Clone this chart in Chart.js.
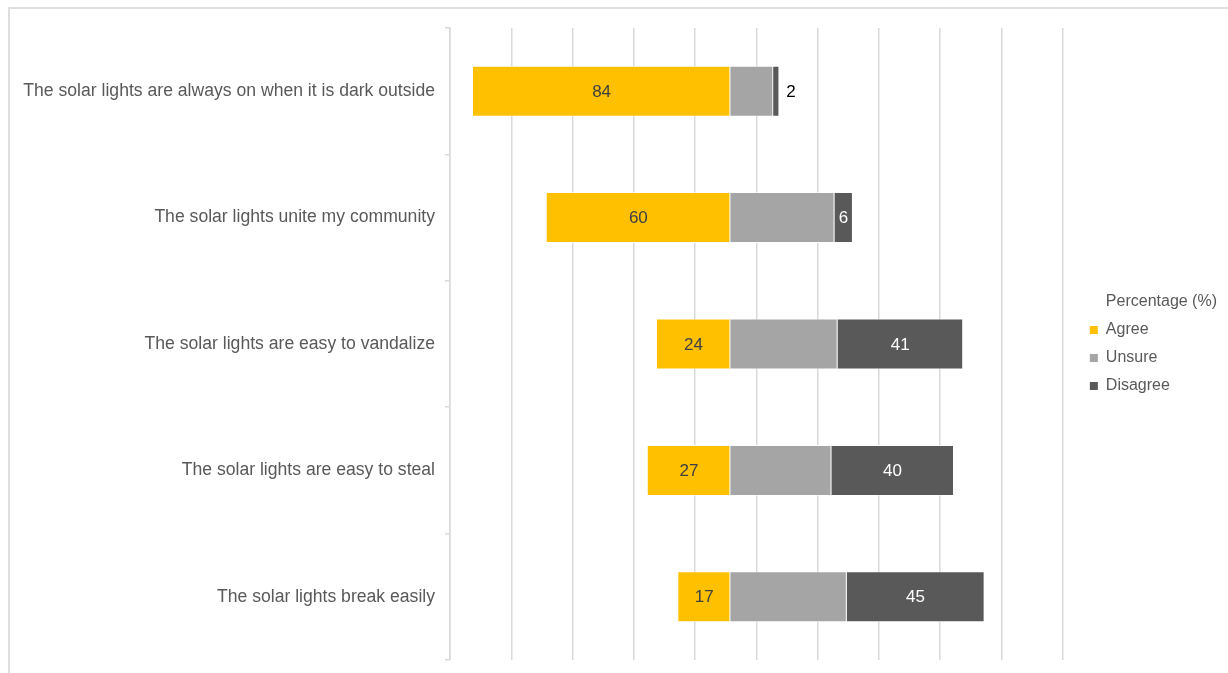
<!DOCTYPE html>
<html>
<head>
<meta charset="utf-8">
<script src="https://cdn.jsdelivr.net/npm/chart.js@4"></script>
<style>
  html, body { margin: 0; padding: 0; background: #fff; overflow: hidden; }
  #wrap { position: relative; width: 1228px; height: 673px; }
  #frame { position: absolute; left: 8px; top: 7px; width: 1240px; height: 700px;
           border-left: 2px solid #dedede; border-top: 2px solid #dedede; }
  #barChart { position: absolute; left: 0; top: 0; }
</style>
</head>
<body>
<div id="wrap">
  <div id="frame"></div>
  <canvas id="barChart" width="1228" height="673"></canvas>
</div>
<script>
// Statements (top to bottom)
var categories = [
  'The solar lights are always on when it is dark outside',
  'The solar lights unite my community',
  'The solar lights are easy to vandalize',
  'The solar lights are easy to steal',
  'The solar lights break easily'
];

// Percentages
var agree = [84, 60, 24, 27, 17];
var unsure = [14, 34, 35, 33, 38];
var disagree = [2, 6, 41, 40, 45];

var seriesNames = ['Agree', 'Unsure', 'Disagree'];
var seriesColors = ['#FFC000', '#A5A5A5', '#595959'];
var legendTitle = 'Percentage (%)';

// Where the Agree bars end on the 0-200 axis (all bars line up there)
var centre = 91.5;
var gridTicks = [0, 20, 40, 60, 80, 100, 120, 140, 160, 180, 200];

// Invisible spacer so that the Agree bars end on the centre line
var spacer = agree.map(function(v) { return centre - v; });

var fontFamily = '"Liberation Sans", Arial, sans-serif';

// Plugin that writes the values on the Agree and Disagree bars
var valueLabels = {
  id: 'valueLabels',
  afterDatasetsDraw: function(chart) {
    var ctx = chart.ctx;
    ctx.save();
    ctx.font = '17px ' + fontFamily;
    ctx.textBaseline = 'middle';
    [1, 3].forEach(function(dsIndex) {
      var meta = chart.getDatasetMeta(dsIndex);
      var values = chart.data.datasets[dsIndex].data;
      meta.data.forEach(function(bar, i) {
        var txt = String(values[i]);
        var left = Math.min(bar.x, bar.base);
        var right = Math.max(bar.x, bar.base);
        var w = ctx.measureText(txt).width;
        if (right - left < w + 4) {
          // too small: write it after the bar
          ctx.textAlign = 'left';
          ctx.fillStyle = '#000000';
          ctx.fillText(txt, right + 7, bar.y + 1);
        } else {
          ctx.textAlign = 'center';
          ctx.fillStyle = dsIndex === 1 ? '#404040' : '#ffffff';
          ctx.fillText(txt, (left + right) / 2, bar.y + 1);
        }
      });
    });
    ctx.restore();
  }
};

var ctx = document.getElementById('barChart').getContext('2d');

window.myChart = new Chart(ctx, {
  type: 'bar',
  data: {
    labels: categories,
    datasets: [{
      label: '',
      data: spacer,
      backgroundColor: 'rgba(0,0,0,0)',
      borderWidth: 0
    }, {
      label: seriesNames[0],
      data: agree,
      backgroundColor: seriesColors[0],
      borderColor: '#ffffff',
      borderWidth: 0.8
    }, {
      label: seriesNames[1],
      data: unsure,
      backgroundColor: seriesColors[1],
      borderColor: '#ffffff',
      borderWidth: 0.8
    }, {
      label: seriesNames[2],
      data: disagree,
      backgroundColor: seriesColors[2],
      borderColor: '#ffffff',
      borderWidth: 0.8
    }]
  },
  plugins: [valueLabels],
  options: {
    indexAxis: 'y',
    responsive: false,
    animation: false,
    categoryPercentage: 1,
    barPercentage: 0.4,
    layout: {
      padding: { top: 28, bottom: 13, left: 0, right: 1 }
    },
    scales: {
      x: {
        stacked: true,
        min: 0,
        max: 205,
        afterBuildTicks: function(scale) {
          scale.ticks = gridTicks.map(function(v) { return { value: v }; });
        },
        ticks: { display: false },
        grid: { color: '#d9d9d9', lineWidth: 1.5, drawTicks: false },
        border: { display: false }
      },
      y: {
        stacked: true,
        afterFit: function(scale) {
          scale.width = 450;
          // no extra room for the first/last label
          scale.paddingTop = 0;
          scale.paddingBottom = 0;
        },
        ticks: {
          color: '#595959',
          padding: 10,
          font: { family: fontFamily, size: 17.6 }
        },
        grid: { drawOnChartArea: false, color: '#d9d9d9', lineWidth: 1.5, tickLength: 5, offset: true },
        border: { color: '#d9d9d9', width: 1.5 }
      }
    },
    plugins: {
      tooltip: { enabled: false },
      legend: {
        position: 'right',
        labels: {
          boxWidth: 8,
          boxHeight: 8,
          padding: 12,
          color: '#595959',
          font: { family: fontFamily, size: 16 },
          generateLabels: function(chart) {
            // legend title written as a first item without a box
            var items = [{
              text: legendTitle,
              fillStyle: 'rgba(0,0,0,0)',
              strokeStyle: 'rgba(0,0,0,0)',
              lineWidth: 0,
              fontColor: '#595959',
              datasetIndex: -1
            }];
            seriesNames.forEach(function(name, i) {
              items.push({
                text: name,
                fillStyle: seriesColors[i],
                strokeStyle: seriesColors[i],
                lineWidth: 0,
                fontColor: '#595959',
                datasetIndex: i + 1
              });
            });
            return items;
          }
        }
      }
    }
  }
});
</script>
</body>
</html>
